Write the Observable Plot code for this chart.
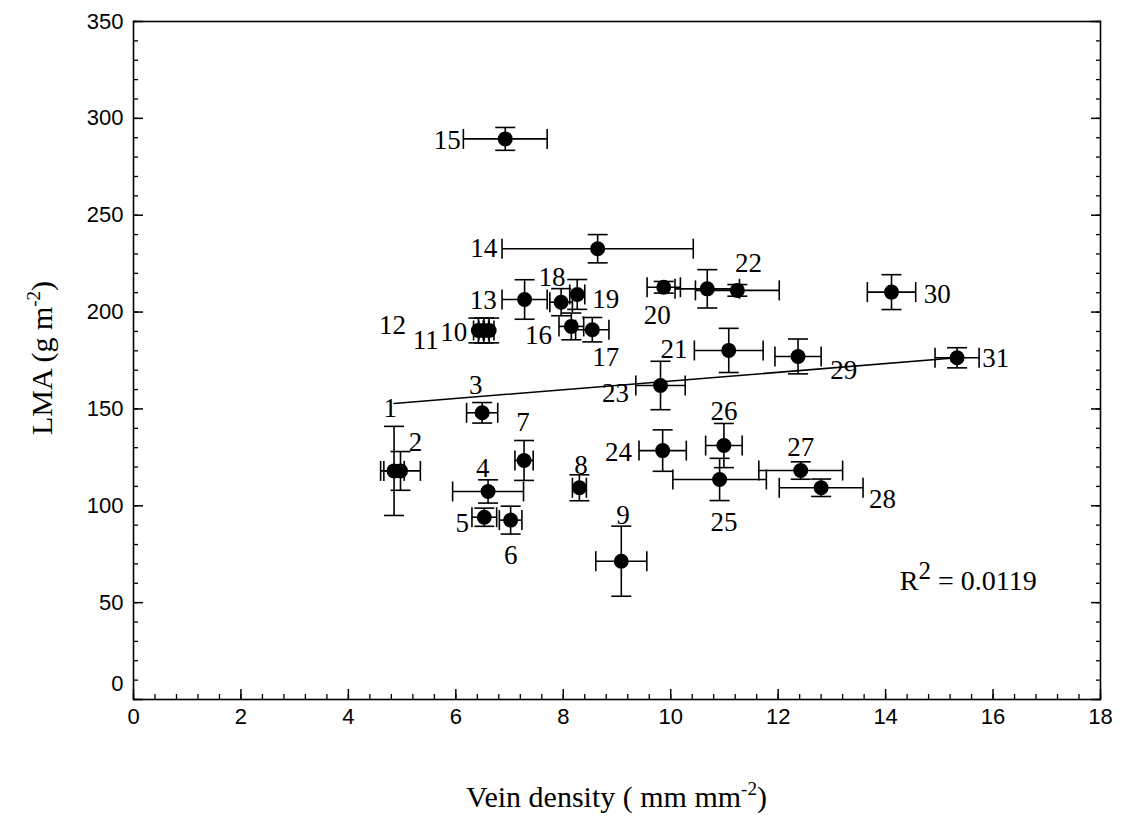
<!DOCTYPE html>
<html><head><meta charset="utf-8">
<script src="https://cdn.jsdelivr.net/npm/d3@7"></script>
<script src="https://cdn.jsdelivr.net/npm/@observablehq/plot@0.6"></script>
<style>body{margin:0;background:#fff;} #chart svg{display:block;}</style>
</head><body><div id="chart"></div>
<script>
// Point labels ("" = unlabeled point)
const labels = ["1","2","3","4","5","6","7","8","9","10","11","12","13","14","15","16","17","18","19","20","","21","22","23","24","25","26","27","28","29","30","31"];
// Vein density (mm mm-2)
const veinDensity = [4.85,4.97,6.49,6.60,6.53,7.02,7.27,8.30,9.08,6.62,6.52,6.42,7.28,8.64,6.92,8.15,8.54,7.96,8.26,9.87,10.68,11.08,11.24,9.81,9.85,10.91,10.99,12.42,12.80,12.37,14.11,15.33];
const veinDensityErr = [0.19,0.37,0.29,0.66,0.23,0.21,0.17,0.13,0.475,0.09,0.09,0.09,0.42,1.78,0.78,0.23,0.31,0.21,0.14,0.31,0.6,0.64,0.78,0.46,0.44,0.87,0.34,0.78,0.78,0.43,0.45,0.41];
// LMA (g m-2)
const lma = [118,118,148,107.4,94.1,92.6,123.4,109.3,71.4,190.5,190.5,190.5,206.5,232.7,289.4,192.6,190.9,205.1,209.1,212.8,212,180.2,211.2,162.1,128.5,113.6,131.1,118.2,109.3,177.1,210.3,176.4];
const lmaErr = [23,10,5.3,6,4.7,7.2,10.3,6.7,18.1,6.4,6.4,6.4,10.2,7.3,5.9,6.9,6.3,7,7.7,3,9.9,11.4,3,12.5,10.7,10.9,11.4,4.5,4.5,9,9,5.2];
// label anchor positions (data units)
const labelX = [4.78,5.25,6.37,6.50,6.12,7.02,7.25,8.33,9.11,5.96,5.44,4.82,6.51,6.52,5.84,7.54,8.79,7.79,8.79,9.75,null,10.06,11.45,8.97,9.03,10.99,10.99,12.42,13.94,13.22,14.96,16.05];
const labelY = [150.2,132.8,162,119.1,90.7,74.3,143.2,120.8,95.0,189.6,185.3,193.1,206.0,232.7,288.6,187.9,176.7,218.0,206.8,198.2,null,181.0,224.9,157.8,127.7,91.5,148.8,130.3,103.1,169.9,209.4,175.9];
// regression line end points
const fitX = [4.85, 15.33];
const fitY = [152.8, 176.4];
// ticks
const xTicks = [0,2,4,6,8,10,12,14,16,18];
const yTicks = [0,50,100,150,200,250,300,350];
const xMinor = d3.range(0, 18.001, 0.4).map(v => +v.toFixed(2));
const yMinor = d3.range(0, 350.001, 10);
const r2Label = "R2 = 0.0119";
const r2X = 15.54, r2Y = 61.0;

const points = labels.map((label, i) => ({
  label, x: veinDensity[i], xe: veinDensityErr[i], y: lma[i], ye: lmaErr[i], lx: labelX[i], ly: labelY[i]
}));
const fit = fitX.map((x, i) => ({x, y: fitY[i]}));
const capsY = points.flatMap(d => [{x: d.x, y: d.y - d.ye}, {x: d.x, y: d.y + d.ye}]);
const capsX = points.flatMap(d => [{x: d.x - d.xe, y: d.y}, {x: d.x + d.xe, y: d.y}]);
const hCap = {draw(ctx) { ctx.moveTo(-10, 0); ctx.lineTo(10, 0); }};
const vCap = {draw(ctx) { ctx.moveTo(0, -10); ctx.lineTo(0, 10); }};
const serif = "'Liberation Serif', 'Times New Roman', serif";

const chart = Plot.plot({
  width: 1126, height: 825,
  marginLeft: 133, marginRight: 26, marginTop: 21, marginBottom: 126,
  style: {fontFamily: "'Liberation Sans', Arial, sans-serif", fontSize: "22px", color: "black", background: "white"},
  x: {domain: [0, 18]},
  y: {domain: [0, 350]},
  marks: [
    Plot.axisX(xMinor, {anchor: "bottom", tickSize: -5, fill: "none", label: null, strokeWidth: 1.3}),
    Plot.axisX(xTicks, {anchor: "bottom", tickSize: -10, fill: "none", label: null, strokeWidth: 1.5}),
    Plot.axisX(xTicks, {anchor: "bottom", tickSize: 0, tickPadding: 9, label: null, fontSize: 22}),
    Plot.axisY(yMinor, {anchor: "left", tickSize: -5, fill: "none", label: null, strokeWidth: 1.3}),
    Plot.axisY(yTicks, {anchor: "left", tickSize: -10, fill: "none", label: null, strokeWidth: 1.5}),
    Plot.axisY(yMinor, {anchor: "right", tickSize: -5, fill: "none", label: null, strokeWidth: 1.3}),
    Plot.axisY(yTicks, {anchor: "right", tickSize: -10, fill: "none", label: null, strokeWidth: 1.5}),
    Plot.axisY(yTicks.filter(v => v !== 0), {anchor: "left", tickSize: 0, tickPadding: 10, label: null, fontSize: 22}),
    Plot.text(yTicks.filter(v => v === 0), {y: d => d, frameAnchor: "left", dx: -10, dy: -16, textAnchor: "end", text: d => String(d), fontSize: 22}),
    Plot.frame({stroke: "black", strokeWidth: 1.6}),
    Plot.line(fit, {x: "x", y: "y", stroke: "black", strokeWidth: 1.5}),
    Plot.link(points, {x1: d => d.x - d.xe, x2: d => d.x + d.xe, y1: "y", y2: "y", stroke: "black", strokeWidth: 1.6}),
    Plot.link(points, {x1: "x", x2: "x", y1: d => d.y - d.ye, y2: d => d.y + d.ye, stroke: "black", strokeWidth: 1.6}),
    Plot.dot(capsY, {x: "x", y: "y", symbol: hCap, stroke: "black", strokeWidth: 1.6, fill: "none"}),
    Plot.dot(capsX, {x: "x", y: "y", symbol: vCap, stroke: "black", strokeWidth: 1.6, fill: "none"}),
    Plot.dot(points, {x: "x", y: "y", r: 7.5, fill: "black", stroke: "none"}),
    Plot.text(points.filter(d => d.label), {x: "lx", y: "ly", text: "label", fontFamily: serif, fontSize: 27, fill: "black"}),
    Plot.text([r2Label], {x: r2X, y: r2Y, text: d => d, fontFamily: serif, fontSize: 28, fill: "black", className: "r2"})
  ]
});
document.getElementById("chart").appendChild(chart);

const svg = d3.select(chart);
// superscript in R^2
svg.selectAll(".r2 text").each(function() {
  const t = d3.select(this);
  t.text(null);
  t.append("tspan").text("R");
  t.append("tspan").attr("dy", "-11").attr("font-size", 25).text("2");
  t.append("tspan").attr("dy", "11").text(" = 0.0119");
});
// axis titles with superscripts
const xt = svg.append("text")
  .attr("x", 616.5).attr("y", 807)
  .attr("text-anchor", "middle")
  .attr("font-family", serif).attr("font-size", 30).attr("fill", "black");
xt.append("tspan").text("Vein density ( mm mm");
xt.append("tspan").attr("dy", -12).attr("font-size", 19).text("-2");
xt.append("tspan").attr("dy", 12).text(")");

const yt = svg.append("text")
  .attr("transform", "translate(52,358) rotate(-90)")
  .attr("text-anchor", "middle")
  .attr("font-family", serif).attr("font-size", 30).attr("fill", "black");
yt.append("tspan").text("LMA (g m");
yt.append("tspan").attr("dy", -12).attr("font-size", 19).text("-2");
yt.append("tspan").attr("dy", 12).text(")");
</script>
</body></html>
